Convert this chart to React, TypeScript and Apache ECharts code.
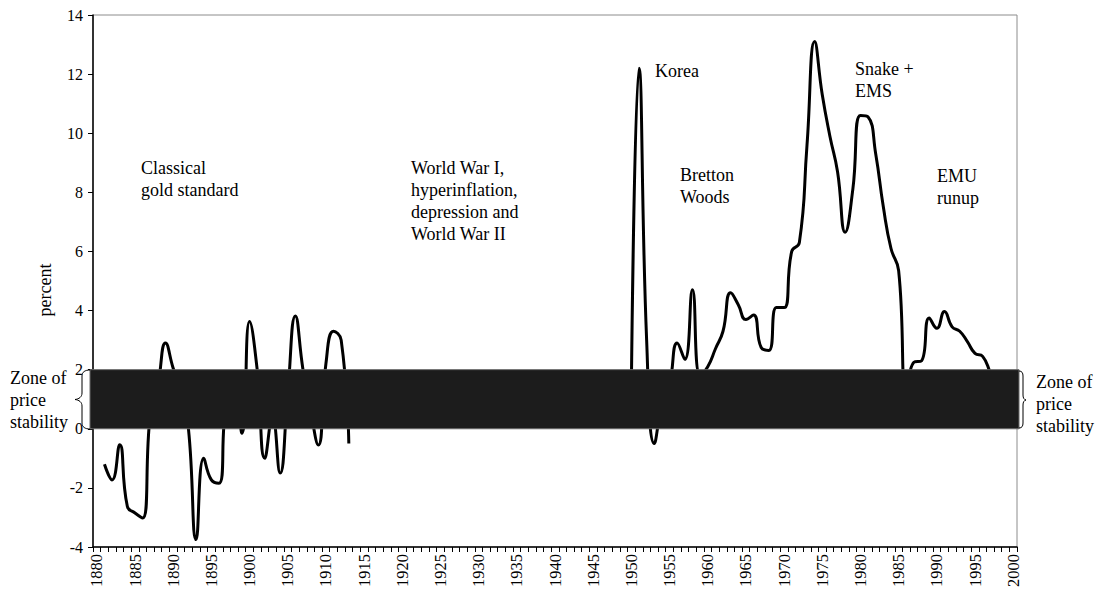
import React, { useEffect, useRef } from "react";
import * as echarts from "echarts";

// Category labels: years 1880..2000
const years: string[] = Array.from({ length: 121 }, (_, i) => String(1880 + i));

// Inflation, percent — Classical gold standard period, 1881–1913
const goldStandardStart = 1881;
const goldStandardInflation = [
  -1.2, -1.73, -0.54, -2.63, -2.85, -3.02, 0.5, 1.5, 2.9, 2.05,
  1.3, 0.0, -3.75, -1.0, -1.73, -1.84, 0.8, 0.9, -0.15, 3.63,
  2.0, -1.0, 0.4, -1.5, 1.2, 3.82, 2.0, 0.6, -0.55, 2.2,
  3.3, 3.0, -0.5,
];

// Inflation, percent — post-war period, 1950–1998
const postwarStart = 1950;
const postwarInflation = [
  1.5, 12.2, 3.0, -0.5, 0.8, 1.5, 2.9, 2.35, 4.7, 1.8,
  2.1, 2.7, 3.3, 4.6, 4.2, 3.7, 3.85, 2.75, 2.65, 4.1,
  4.1, 6.0, 6.3, 9.6, 13.1, 11.3, 9.9, 8.7, 6.65, 8.1,
  10.6, 10.55, 9.3, 7.5, 6.1, 5.35, 1.2, 2.25, 2.3, 3.75,
  3.4, 3.97, 3.45, 3.3, 2.95, 2.55, 2.45, 1.9, 1.3,
];

// Zone of price stability (percent)
const stabilityZone = [0, 2];

// Y-axis range
const yMin = -4;
const yMax = 14;
const yStep = 2;

const FONT = '"Liberation Serif", "Times New Roman", serif';

echarts.graphic.registerShape(
  "braceLeft",
  echarts.graphic.extendPath(
    "M16,0 C11,0 8,2 8,6 L8,23 C8,27 5,29 1,29.5 C5,30 8,32 8,36 L8,53 C8,57 11,59 16,59",
    {}
  )
);
echarts.graphic.registerShape(
  "braceRight",
  echarts.graphic.extendPath(
    "M0,0 C3,0 4,2 4,5 L4,24 C4,27 5,28.5 7,29 C5,29.5 4,31 4,34 L4,52 C4,55 3,57 0,57",
    {}
  )
);

function buildSeriesData(): (number | null)[] {
  const data: (number | null)[] = years.map(() => null);
  goldStandardInflation.forEach((v, i) => {
    data[goldStandardStart - 1880 + i] = v;
  });
  postwarInflation.forEach((v, i) => {
    data[postwarStart - 1880 + i] = v;
  });
  return data;
}

function textEl(text: string, x: number, y: number) {
  return {
    type: "text",
    x,
    y,
    z: 100,
    style: {
      text,
      fontSize: 18,
      fontFamily: FONT,
      lineHeight: 22,
      fill: "#000",
      align: "left",
      verticalAlign: "top",
    },
  };
}

export default function App() {
  const ref = useRef<HTMLDivElement>(null);

  useEffect(() => {
    if (!ref.current) return;
    const chart = echarts.init(ref.current, undefined, { renderer: "svg" });
    const option: any = {
      animation: false,
      backgroundColor: "#fff",
      textStyle: { fontFamily: FONT, color: "#000" },
      grid: {
        left: 93,
        right: 86,
        top: 15,
        bottom: 48,
        show: true,
        borderColor: "#8c8c8c",
        borderWidth: 1,
        backgroundColor: "transparent",
        outerBoundsMode: "none",
      },
      xAxis: {
        type: "category",
        data: years,
        boundaryGap: true,
        axisLine: { show: true, onZero: false, lineStyle: { color: "#000", width: 1.5 } },
        axisTick: { show: true, interval: 0, length: 5, lineStyle: { color: "#000", width: 1 } },
        axisLabel: {
          interval: 4,
          rotate: 90,
          fontSize: 16.5,
          fontFamily: FONT,
          color: "#000",
          margin: 7,
        },
        splitLine: { show: false },
      },
      yAxis: {
        type: "value",
        min: yMin,
        max: yMax,
        interval: yStep,
        axisLine: { show: true, lineStyle: { color: "#000", width: 1.5 } },
        axisTick: { show: true, length: 5, lineStyle: { color: "#000", width: 1 } },
        axisLabel: { fontSize: 16, fontFamily: FONT, color: "#000", margin: 10 },
        splitLine: { show: false },
      },
      series: [
        {
          type: "line",
          name: "Inflation",
          data: buildSeriesData(),
          smooth: 0.5,
          connectNulls: false,
          showSymbol: false,
          symbol: "none",
          z: 2,
          lineStyle: { color: "#000", width: 3 },
        },
        {
          type: "custom",
          name: "Zone of price stability",
          z: 5,
          silent: true,
          clip: false,
          data: [[0, stabilityZone[0], stabilityZone[1]]],
          encode: { x: 0, y: [1, 2] },
          renderItem: (params: any, api: any) => {
            const cs = params.coordSys;
            const yLow = api.coord([0, api.value(1)])[1];
            const yHigh = api.coord([0, api.value(2)])[1];
            return {
              type: "rect",
              shape: { x: cs.x - 3, y: yHigh, width: cs.width + 5, height: yLow - yHigh },
              style: { fill: "#1c1c1c", stroke: "#6a6a6a", lineWidth: 1 },
            };
          },
        },
      ],
      graphic: [
        {
          type: "text",
          x: 45,
          y: 290,
          rotation: Math.PI / 2,
          z: 100,
          style: {
            text: "percent",
            fontSize: 18,
            fontFamily: FONT,
            fill: "#000",
            align: "center",
            verticalAlign: "middle",
          },
        },
        textEl("Classical\ngold standard", 141, 157),
        textEl("World War I,\nhyperinflation,\ndepression and\nWorld War II", 411, 157),
        textEl("Korea", 655, 60),
        textEl("Bretton\nWoods", 680, 164),
        textEl("Snake +\nEMS", 855, 58),
        textEl("EMU\nrunup", 937, 165),
        textEl("Zone of\nprice\nstability", 10, 367),
        textEl("Zone of\nprice\nstability", 1036, 371),
        {
          type: "braceLeft",
          x: 74,
          y: 370,
          z: 100,
          style: { stroke: "#000", fill: "none", lineWidth: 1 },
        },
        {
          type: "braceRight",
          x: 1019,
          y: 371,
          z: 100,
          style: { stroke: "#000", fill: "none", lineWidth: 1 },
        },
      ],
    };
    chart.setOption(option);
    return () => chart.dispose();
  }, []);

  return (
    <div
      ref={ref}
      style={{ position: "absolute", left: 0, top: 0, width: 1103, height: 595 }}
    />
  );
}
